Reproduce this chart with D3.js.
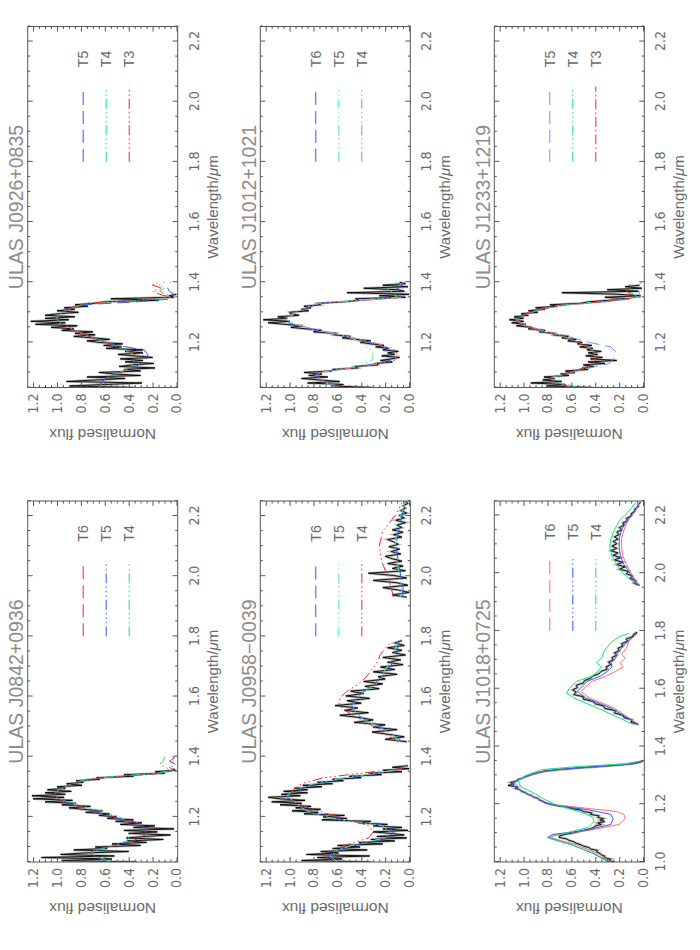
<!DOCTYPE html>
<html>
<head>
<meta charset="utf-8">
<script src="https://cdn.jsdelivr.net/npm/d3@7"></script>
<style>
  body { margin: 0; background: #fff; }
  text { font-family: "Liberation Sans", Arial, sans-serif; }
  .tick text { font-family: "Liberation Sans Narrow", "DejaVu Sans Condensed", "Liberation Sans", sans-serif; }
</style>
</head>
<body>
<svg id="fig" width="700" height="950"></svg>
<script>
// ---- data (wavelength in micron, normalised flux) ----

// tick labels
const wlTickLabels = [1.0, 1.2, 1.4, 1.6, 1.8, 2.0, 2.2];
const fluxTickLabels = [0.0, 0.2, 0.4, 0.6, 0.8, 1.0, 1.2];

// panel titles and legend labels
const panelTitles = ['ULAS J0926+0835', 'ULAS J1012+1021', 'ULAS J1233+1219',
  'ULAS J0842+0936', 'ULAS J0958\u22120039', 'ULAS J1018+0725'];
const j0926Legend = ['T5', 'T4', 'T3'];
const j1012Legend = ['T6', 'T5', 'T4'];
const j1233Legend = ['T5', 'T4', 'T3'];
const j0842Legend = ['T6', 'T5', 'T4'];
const j0958Legend = ['T6', 'T5', 'T4'];
const j1018Legend = ['T6', 'T5', 'T4'];

// observed spectra: flux sampled from a start wavelength at a fixed step
const j0926FluxJ = [0.34,0.89,0.60,0.29,0.92,0.67,0.43,0.75,0.30,0.52,0.65,0.30,0.44,0.18,0.48,0.37,0.19,0.43,0.28,0.47,
  0.20,0.35,0.49,0.28,0.43,0.28,0.59,0.46,0.61,0.45,0.65,0.75,0.56,0.70,0.86,0.68,0.85,0.70,0.96,0.86,
  1.05,0.83,1.18,0.93,1.22,0.90,1.10,0.85,1.10,0.99,0.82,1.00,0.85,0.94,0.74,0.85,0.68,0.60,0.15,0.55,
  0.02,0.06,0.00];
const j1012FluxJ = [0.30,0.65,0.55,0.85,0.58,0.75,0.90,0.68,0.84,0.73,0.88,0.65,0.64,0.43,0.45,0.26,0.27,0.14,0.24,0.15,
  0.08,0.23,0.12,0.18,0.09,0.22,0.17,0.28,0.21,0.32,0.41,0.32,0.45,0.56,0.49,0.63,0.61,0.80,0.73,0.86,
  0.99,0.89,1.04,1.18,1.00,1.22,1.02,1.10,0.92,0.99,1.00,0.84,0.90,0.82,0.88,0.74,0.76,0.54,0.42,0.45,
  0.03,0.25,0.00,0.52,0.04,0.10,0.38,0.01,0.22,0.03,0.08];
const j1233FluxJ = [0.42,0.81,0.65,0.94,0.68,0.84,0.74,0.83,0.62,0.69,0.57,0.65,0.46,0.51,0.41,0.50,0.32,0.46,0.22,0.44,
  0.34,0.48,0.38,0.46,0.35,0.47,0.42,0.53,0.43,0.55,0.51,0.63,0.56,0.68,0.62,0.75,0.74,0.87,0.82,0.96,
  0.93,1.06,0.98,1.10,1.00,1.12,1.00,1.08,0.96,1.02,0.88,0.96,0.82,0.90,0.72,0.78,0.52,0.45,0.28,0.12,
  0.32,0.02,0.22,0.68,0.04,0.30,0.01,0.15,0.03];
const j0842FluxJ = [0.33,0.96,0.54,1.13,0.52,0.97,0.77,0.40,0.86,0.58,0.68,0.30,0.54,0.25,0.41,0.11,0.42,0.26,0.05,0.40,
  0.16,0.44,0.02,0.36,0.18,0.47,0.29,0.51,0.36,0.58,0.50,0.65,0.56,0.76,0.62,0.78,0.90,0.72,0.96,0.84,
  1.10,0.87,1.20,0.94,1.21,0.93,1.10,0.88,1.08,0.93,1.00,0.79,0.92,0.78,0.84,0.64,0.67,0.36,0.44,0.10,
  0.18,0.01,0.03];
const j0958FluxJ = [0.32,0.90,0.56,0.77,0.33,0.86,0.59,0.74,0.35,0.64,0.41,0.60,0.22,0.42,0.12,0.32,0.02,0.27,0.04,0.15,
  0.30,0.01,0.22,0.06,0.30,0.18,0.42,0.32,0.73,0.52,0.72,0.54,0.88,0.76,0.98,0.74,0.95,0.82,1.08,0.90,
  1.15,0.87,1.08,1.18,0.91,1.07,0.85,1.05,0.85,0.96,0.73,0.89,0.64,0.77,0.55,0.64,0.40,0.50,0.23,0.34,
  0.06,0.22,0.00,0.14,0.01];
const j0958FluxH = [0.02,0.20,0.04,0.17,0.31,0.10,0.30,0.20,0.46,0.30,0.41,0.58,0.34,0.54,0.43,0.62,0.40,0.52,0.33,0.53,
  0.38,0.49,0.25,0.37,0.22,0.38,0.20,0.26,0.10,0.30,0.12,0.24,0.05,0.18,0.07,0.22,0.03,0.14,0.06,0.18,
  0.04,0.12,0.06];
const j0958FluxK = [0.02,0.14,0.00,0.09,0.22,0.01,0.10,0.30,0.02,0.12,0.34,0.03,0.14,0.05,0.18,0.06,0.14,0.20,0.07,0.15,
  0.08,0.17,0.09,0.13,0.18,0.06,0.13,0.05,0.14,0.06,0.10,0.03,0.11,0.04,0.08,0.02,0.07,0.03,0.05,0.01,
  0.03];
const j1018FluxJ = [0.24,0.29,0.27,0.33,0.32,0.35,0.36,0.39,0.38,0.44,0.45,0.50,0.52,0.56,0.58,0.62,0.64,0.70,0.70,0.66,
  0.60,0.54,0.49,0.44,0.41,0.40,0.35,0.38,0.32,0.36,0.33,0.38,0.37,0.44,0.43,0.50,0.52,0.60,0.64,0.72,
  0.77,0.82,0.84,0.87,0.88,0.92,0.93,0.97,0.98,1.02,1.03,1.07,1.05,1.13,1.08,1.11,1.06,1.05,1.01,0.99,
  0.95,0.92,0.87,0.82,0.70,0.56,0.38,0.22,0.09,0.03,0.00];
const j1018FluxH = [0.04,0.10,0.09,0.16,0.17,0.24,0.23,0.32,0.33,0.40,0.42,0.50,0.50,0.58,0.56,0.59,0.55,0.56,0.50,0.49,
  0.44,0.42,0.37,0.35,0.30,0.31,0.27,0.29,0.25,0.26,0.22,0.24,0.20,0.21,0.17,0.18,0.13,0.14,0.09,0.08,
  0.05];
const j1018FluxK = [0.03,0.08,0.06,0.11,0.09,0.14,0.12,0.20,0.15,0.22,0.17,0.24,0.19,0.25,0.21,0.27,0.22,0.26,0.22,0.25,
  0.21,0.24,0.20,0.22,0.18,0.20,0.16,0.17,0.13,0.14,0.10,0.10,0.07,0.07,0.04,0.04,0.02];

// template spectra, one array of [wavelength, flux] per band
const j0926T5 = [[[1.05,0.64],[1.07,0.63],[1.09,0.56],[1.10,0.48],[1.12,0.34],[1.14,0.26],[1.16,0.24],[1.175,0.27],[1.19,0.5],[1.21,0.66],[1.23,0.8],[1.25,0.9],[1.27,0.99],[1.29,1.0],[1.31,0.92],[1.325,0.78],[1.335,0.33],[1.345,0.03],[1.36,0.02],[1.37,0.06],[1.385,0.08],[1.40,0.05]]];
const j0926T4 = [[[1.05,0.64],[1.07,0.62],[1.09,0.55],[1.10,0.47],[1.12,0.38],[1.14,0.35],[1.16,0.36],[1.18,0.46],[1.20,0.6],[1.22,0.72],[1.24,0.85],[1.26,0.95],[1.28,1.01],[1.30,0.95],[1.32,0.84],[1.33,0.74],[1.34,0.3],[1.35,0.05],[1.36,0.1],[1.37,0.14],[1.38,0.1],[1.39,0.15],[1.40,0.1]]];
const j0926T3 = [[[1.05,0.65],[1.07,0.62],[1.09,0.54],[1.10,0.46],[1.12,0.37],[1.14,0.33],[1.16,0.35],[1.18,0.45],[1.20,0.6],[1.22,0.73],[1.24,0.86],[1.26,0.96],[1.28,1.02],[1.30,0.96],[1.32,0.85],[1.33,0.75],[1.34,0.32],[1.35,0.06],[1.36,0.14],[1.37,0.2],[1.38,0.12],[1.39,0.2],[1.40,0.16]]];

const j1012T6 = [[[1.05,0.6],[1.07,0.72],[1.09,0.79],[1.10,0.76],[1.12,0.4],[1.14,0.16],[1.16,0.13],[1.18,0.17],[1.20,0.33],[1.22,0.55],[1.24,0.78],[1.26,0.98],[1.275,1.05],[1.29,1.0],[1.31,0.88],[1.33,0.74],[1.34,0.38],[1.35,0.06],[1.36,0.03],[1.37,0.05],[1.38,0.1],[1.39,0.06],[1.40,0.04]]];
const j1012T5 = [[[1.05,0.62],[1.07,0.72],[1.09,0.78],[1.10,0.74],[1.12,0.45],[1.14,0.31],[1.16,0.3],[1.18,0.33],[1.20,0.4],[1.22,0.52],[1.24,0.75],[1.26,0.95],[1.275,1.02],[1.29,0.98],[1.31,0.9],[1.33,0.78],[1.34,0.45],[1.35,0.1],[1.36,0.12],[1.38,0.18],[1.40,0.1]]];
const j1012T4 = [[[1.05,0.58],[1.07,0.7],[1.09,0.78],[1.10,0.74],[1.12,0.38],[1.14,0.12],[1.16,0.1],[1.18,0.13],[1.20,0.3],[1.22,0.52],[1.24,0.74],[1.26,0.96],[1.275,1.04],[1.29,1.0],[1.31,0.9],[1.33,0.76],[1.34,0.35],[1.35,0.05],[1.37,0.03],[1.39,0.08],[1.40,0.05]]];

const j1233T5 = [[[1.05,0.6],[1.07,0.74],[1.085,0.76],[1.10,0.6],[1.12,0.4],[1.13,0.28],[1.15,0.24],[1.17,0.23],[1.185,0.27],[1.20,0.45],[1.22,0.63],[1.24,0.85],[1.26,1.0],[1.275,1.06],[1.29,1.0],[1.31,0.86],[1.325,0.62],[1.335,0.3],[1.35,0.02],[1.36,0.03],[1.38,0.04],[1.40,0.02]]];
const j1233T4 = [[[1.05,0.55],[1.07,0.72],[1.085,0.75],[1.10,0.62],[1.12,0.46],[1.14,0.4],[1.16,0.4],[1.18,0.44],[1.20,0.54],[1.22,0.67],[1.24,0.88],[1.26,1.02],[1.275,1.06],[1.29,1.0],[1.31,0.86],[1.325,0.66],[1.335,0.35],[1.35,0.04],[1.36,0.08],[1.37,0.12],[1.385,0.1],[1.40,0.08]]];
const j1233T3 = [[[1.05,0.6],[1.07,0.76],[1.085,0.77],[1.10,0.62],[1.12,0.46],[1.14,0.4],[1.16,0.41],[1.18,0.45],[1.20,0.55],[1.22,0.68],[1.24,0.88],[1.26,1.02],[1.275,1.07],[1.29,1.01],[1.31,0.87],[1.325,0.66],[1.335,0.34],[1.35,0.05],[1.36,0.1],[1.37,0.14],[1.385,0.12],[1.40,0.1]]];

const j0842T6 = [[[1.05,0.56],[1.07,0.68],[1.08,0.72],[1.09,0.68],[1.10,0.57],[1.12,0.36],[1.14,0.26],[1.16,0.25],[1.18,0.32],[1.20,0.53],[1.22,0.7],[1.24,0.86],[1.26,0.98],[1.275,1.03],[1.29,0.98],[1.31,0.86],[1.325,0.72],[1.335,0.45],[1.345,0.12],[1.355,0.02],[1.365,0.06],[1.375,0.01],[1.385,0.06],[1.395,0.02],[1.40,0.04]]];
const j0842T5 = [[[1.05,0.58],[1.07,0.69],[1.08,0.72],[1.09,0.69],[1.10,0.58],[1.12,0.37],[1.14,0.27],[1.16,0.26],[1.18,0.33],[1.20,0.54],[1.22,0.71],[1.24,0.87],[1.26,0.99],[1.275,1.03],[1.29,0.99],[1.31,0.87],[1.325,0.74],[1.335,0.48],[1.345,0.14],[1.355,0.03],[1.37,0.04],[1.385,0.03],[1.40,0.02]]];
const j0842T4 = [[[1.05,0.55],[1.07,0.68],[1.08,0.71],[1.09,0.66],[1.10,0.56],[1.12,0.42],[1.14,0.38],[1.16,0.38],[1.18,0.4],[1.20,0.48],[1.22,0.64],[1.24,0.82],[1.26,0.97],[1.275,1.02],[1.29,0.99],[1.31,0.88],[1.325,0.76],[1.335,0.5],[1.345,0.16],[1.355,0.05],[1.365,0.09],[1.375,0.14],[1.385,0.11],[1.40,0.1]]];

const j0958T6 = [
  [[1.05,0.62],[1.07,0.68],[1.09,0.6],[1.11,0.42],[1.13,0.18],[1.15,0.13],[1.17,0.18],[1.19,0.55],[1.21,0.78],[1.23,0.9],[1.25,0.97],[1.27,1.03],[1.29,0.95],[1.31,0.78],[1.33,0.52],[1.35,0.18],[1.36,0.06],[1.37,0.03]],
  [[1.45,0.06],[1.47,0.12],[1.49,0.2],[1.51,0.3],[1.53,0.4],[1.55,0.45],[1.57,0.48],[1.59,0.46],[1.61,0.4],[1.63,0.33],[1.65,0.27],[1.67,0.22],[1.69,0.18],[1.71,0.14],[1.73,0.12],[1.75,0.1],[1.78,0.09]],
  [[1.93,0.06],[1.96,0.05],[2.0,0.07],[2.05,0.09],[2.1,0.11],[2.15,0.09],[2.2,0.06],[2.25,0.03]]];
const j0958T5 = [
  [[1.05,0.6],[1.07,0.66],[1.09,0.6],[1.11,0.44],[1.13,0.2],[1.15,0.16],[1.17,0.22],[1.19,0.58],[1.21,0.8],[1.23,0.9],[1.25,0.96],[1.27,1.02],[1.29,0.96],[1.31,0.8],[1.33,0.55],[1.35,0.2],[1.36,0.07],[1.37,0.03]],
  [[1.45,0.08],[1.47,0.13],[1.49,0.21],[1.51,0.31],[1.53,0.4],[1.55,0.45],[1.57,0.47],[1.59,0.45],[1.61,0.39],[1.63,0.32],[1.65,0.25],[1.67,0.22],[1.69,0.2],[1.72,0.15],[1.75,0.12],[1.78,0.1]],
  [[1.93,0.07],[1.96,0.06],[2.0,0.08],[2.05,0.1],[2.1,0.12],[2.15,0.1],[2.2,0.07],[2.25,0.03]]];
const j0958T4 = [
  [[1.05,0.66],[1.07,0.7],[1.09,0.66],[1.11,0.5],[1.13,0.34],[1.15,0.3],[1.17,0.34],[1.19,0.5],[1.21,0.68],[1.23,0.84],[1.25,0.96],[1.27,1.0],[1.29,0.97],[1.31,0.9],[1.33,0.72],[1.35,0.3],[1.36,0.08],[1.37,0.03]],
  [[1.45,0.09],[1.47,0.18],[1.49,0.25],[1.51,0.34],[1.54,0.48],[1.56,0.56],[1.58,0.59],[1.60,0.57],[1.62,0.51],[1.64,0.43],[1.66,0.37],[1.68,0.33],[1.70,0.29],[1.72,0.26],[1.74,0.24],[1.76,0.2],[1.78,0.15]],
  [[1.93,0.13],[1.96,0.15],[2.0,0.18],[2.05,0.23],[2.1,0.25],[2.15,0.22],[2.2,0.12],[2.25,0.05]]];

const j1018T6 = [
  [[1.0,0.27],[1.03,0.38],[1.06,0.56],[1.085,0.78],[1.095,0.74],[1.11,0.45],[1.13,0.2],[1.15,0.15],[1.165,0.16],[1.175,0.22],[1.185,0.45],[1.20,0.78],[1.22,0.89],[1.24,0.99],[1.26,1.07],[1.27,1.1],[1.29,1.02],[1.31,0.87],[1.32,0.72],[1.33,0.38],[1.34,0.1],[1.35,0.01]],
  [[1.476,0.04],[1.499,0.12],[1.533,0.24],[1.568,0.45],[1.591,0.52],[1.625,0.43],[1.645,0.3],[1.66,0.23],[1.675,0.17],[1.69,0.19],[1.705,0.15],[1.72,0.18],[1.74,0.14],[1.763,0.12],[1.792,0.05]],
  [[1.958,0.03],[1.98,0.07],[2.0,0.1],[2.03,0.14],[2.06,0.17],[2.09,0.18],[2.12,0.18],[2.15,0.16],[2.18,0.13],[2.21,0.07],[2.245,0.03]]];
const j1018T5 = [
  [[1.0,0.29],[1.03,0.42],[1.06,0.6],[1.085,0.8],[1.095,0.76],[1.11,0.48],[1.13,0.27],[1.15,0.25],[1.165,0.27],[1.18,0.45],[1.20,0.79],[1.22,0.88],[1.24,0.99],[1.26,1.07],[1.27,1.1],[1.29,1.02],[1.31,0.88],[1.32,0.72],[1.33,0.4],[1.34,0.1],[1.35,0.01]],
  [[1.476,0.04],[1.499,0.13],[1.533,0.27],[1.568,0.48],[1.591,0.55],[1.625,0.47],[1.645,0.35],[1.66,0.3],[1.675,0.26],[1.69,0.27],[1.705,0.23],[1.72,0.22],[1.74,0.18],[1.763,0.13],[1.792,0.05]],
  [[1.958,0.04],[1.98,0.08],[2.0,0.11],[2.03,0.16],[2.06,0.19],[2.09,0.2],[2.12,0.2],[2.15,0.18],[2.18,0.14],[2.21,0.08],[2.245,0.03]]];
const j1018T4 = [
  [[1.0,0.28],[1.03,0.41],[1.06,0.6],[1.08,0.77],[1.09,0.75],[1.105,0.6],[1.12,0.46],[1.14,0.41],[1.155,0.42],[1.17,0.5],[1.19,0.66],[1.20,0.74],[1.22,0.84],[1.24,0.92],[1.26,1.02],[1.28,1.05],[1.30,0.98],[1.32,0.85],[1.33,0.56],[1.34,0.15],[1.35,0.02]],
  [[1.476,0.08],[1.499,0.2],[1.533,0.38],[1.568,0.58],[1.585,0.64],[1.60,0.62],[1.625,0.56],[1.645,0.42],[1.66,0.38],[1.675,0.35],[1.69,0.39],[1.71,0.34],[1.728,0.33],[1.745,0.3],[1.763,0.26],[1.78,0.2],[1.792,0.12]],
  [[1.958,0.06],[1.98,0.11],[2.0,0.17],[2.03,0.22],[2.06,0.26],[2.09,0.28],[2.12,0.27],[2.15,0.24],[2.18,0.2],[2.21,0.13],[2.245,0.06]]];

// ---- styles ----
const BLUE = '#2a5cff', LBLUE = '#6b95ff', GREEN = '#14e27c', MINT = '#4cf0a8', RED = '#ff2424', PINK = '#ff6c6c';
const DASH = '13,6';
const DASH3DOT = '10,3,1.5,3,1.5,3,1.5,3';
const DASHDOT = '10,3,1.5,3';

// observed spectrum bands: [start, step, flux]
const panels = [
  { title: panelTitles[0], col: 1, row: 0, wl: [1.05, 2.25], legend: j0926Legend,
    bands: [[1.05, 0.005, j0926FluxJ]],
    tmpl: [[j0926T5, BLUE, DASH], [j0926T4, GREEN, DASH3DOT], [j0926T3, RED, DASH3DOT]] },
  { title: panelTitles[1], col: 1, row: 1, wl: [1.05, 2.25], legend: j1012Legend,
    bands: [[1.05, 0.005, j1012FluxJ]],
    tmpl: [[j1012T6, BLUE, DASH], [j1012T5, MINT, DASH3DOT], [j1012T4, PINK, DASH3DOT]] },
  { title: panelTitles[2], col: 1, row: 2, wl: [1.05, 2.25], legend: j1233Legend,
    bands: [[1.05, 0.005, j1233FluxJ]],
    tmpl: [[j1233T5, LBLUE, DASH], [j1233T4, GREEN, DASH3DOT], [j1233T3, RED, DASHDOT]] },
  { title: panelTitles[3], col: 0, row: 0, wl: [1.05, 2.25], legend: j0842Legend,
    bands: [[1.05, 0.005, j0842FluxJ]],
    tmpl: [[j0842T6, RED, DASH], [j0842T5, BLUE, DASH3DOT], [j0842T4, GREEN, DASH3DOT]] },
  { title: panelTitles[4], col: 0, row: 1, wl: [1.05, 2.25], legend: j0958Legend,
    bands: [[1.05, 0.005, j0958FluxJ], [1.45, 0.008, j0958FluxH], [1.93, 0.008, j0958FluxK]],
    tmpl: [[j0958T6, BLUE, DASH], [j0958T5, MINT, DASH3DOT], [j0958T4, RED, DASH3DOT]] },
  { title: panelTitles[5], col: 0, row: 2, wl: [1.0, 2.25], legend: j1018Legend, solid: true,
    bands: [[1.0, 0.005, j1018FluxJ], [1.476, 0.008, j1018FluxH], [1.958, 0.008, j1018FluxK]],
    tmpl: [[j1018T6, PINK, DASH], [j1018T5, BLUE, DASH3DOT], [j1018T4, GREEN, DASH3DOT]] }
];

// ---- layout (figure drawn in landscape, then turned a quarter turn) ----
const colX = [88, 562.5];
const rowY = [27.7, 260.3, 494.3];
const boxW = 361, boxH = 150;
const INK = '#555', LABEL = '#6a6a6a';

const svg = d3.select('#fig');
const fig = svg.append('g').attr('transform', 'translate(0,950) rotate(-90)');

panels.forEach((p, pi) => {
  const x0 = colX[p.col], y0 = rowY[p.row];
  const x = d3.scaleLinear().domain(p.wl).range([x0, x0 + boxW]);
  const y = d3.scaleLinear().domain([-0.01, 1.245]).range([y0 + boxH, y0]);
  const g = fig.append('g');

  const clipId = 'clip' + pi;
  g.append('clipPath').attr('id', clipId).append('rect')
    .attr('x', x0).attr('y', y0).attr('width', boxW).attr('height', boxH);
  const plot = g.append('g').attr('clip-path', `url(#${clipId})`);

  const line = d3.line().x(d => x(d[0])).y(d => y(d[1]));

  // observed spectrum: grey halo then black trace
  p.bands.forEach(([start, step, flux]) => {
    const pts = flux.map((f, i) => [start + i * step, f]);
    plot.append('path').attr('d', line(pts))
      .attr('fill', 'none').attr('stroke', '#b8b8b8').attr('stroke-width', 2.6);
    plot.append('path').attr('d', line(pts))
      .attr('fill', 'none').attr('stroke', '#000').attr('stroke-width', 0.9);
  });

  // templates drawn over the data
  p.tmpl.forEach(([bands, color, dash]) => {
    bands.forEach(b => {
      plot.append('path').attr('d', line(b))
        .attr('fill', 'none').attr('stroke', color).attr('stroke-width', 1)
        .attr('stroke-dasharray', p.solid ? null : dash);
    });
  });

  // axes, ticks pointing inwards on all four sides
  const wlTicks = wlTickLabels.filter(v => v >= p.wl[0] - 1e-9 && v <= p.wl[1]);
  const wlMinor = d3.range(Math.ceil(p.wl[0] / 0.05) * 0.05, p.wl[1] + 1e-9, 0.05)
    .filter(v => !wlTicks.some(t => Math.abs(t - v) < 1e-6));
  const fMinor = d3.range(0.05, 1.2, 0.05).filter(v => !fluxTickLabels.some(t => Math.abs(t - v) < 1e-6));

  const styleAxis = sel => {
    sel.select('.domain').remove();
    sel.selectAll('.tick line').attr('stroke', INK);
    sel.selectAll('.tick text').attr('fill', LABEL).attr('font-size', 14);
  };

  g.append('g').attr('transform', `translate(0,${y0 + boxH})`)
    .call(d3.axisBottom(x).tickValues(wlTicks).tickSize(-5).tickPadding(11).tickFormat(d3.format('.1f'))).call(styleAxis);
  g.append('g').attr('transform', `translate(0,${y0 + boxH})`)
    .call(d3.axisBottom(x).tickValues(wlMinor).tickSize(-2.5).tickFormat('')).call(styleAxis);
  g.append('g').attr('transform', `translate(0,${y0})`)
    .call(d3.axisTop(x).tickValues(wlTicks).tickSize(-5).tickFormat('')).call(styleAxis);
  g.append('g').attr('transform', `translate(0,${y0})`)
    .call(d3.axisTop(x).tickValues(wlMinor).tickSize(-2.5).tickFormat('')).call(styleAxis);
  g.append('g').attr('transform', `translate(${x0},0)`)
    .call(d3.axisLeft(y).tickValues(fluxTickLabels).tickSize(-5).tickPadding(6).tickFormat(d3.format('.1f'))).call(styleAxis);
  g.append('g').attr('transform', `translate(${x0},0)`)
    .call(d3.axisLeft(y).tickValues(fMinor).tickSize(-2.5).tickFormat('')).call(styleAxis);
  g.append('g').attr('transform', `translate(${x0 + boxW},0)`)
    .call(d3.axisRight(y).tickValues(fluxTickLabels).tickSize(-5).tickFormat('')).call(styleAxis);
  g.append('g').attr('transform', `translate(${x0 + boxW},0)`)
    .call(d3.axisRight(y).tickValues(fMinor).tickSize(-2.5).tickFormat('')).call(styleAxis);

  g.append('rect').attr('x', x0).attr('y', y0).attr('width', boxW).attr('height', boxH)
    .attr('fill', 'none').attr('stroke', INK).attr('stroke-width', 1);

  // axis titles
  const xl = g.append('text').attr('x', x0 + boxW / 2).attr('y', y0 + boxH + 40)
    .attr('text-anchor', 'middle').attr('font-size', 15).attr('fill', LABEL).text('Wavelength/');
  xl.append('tspan').attr('font-style', 'italic').text('\u03bc');
  xl.append('tspan').text('m');
  g.append('text').attr('transform', `translate(${x0 - 41},${y0 + boxH / 2}) rotate(-90)`)
    .attr('text-anchor', 'middle').attr('font-size', 15.5).attr('fill', LABEL).text('Normalised flux');

  // panel title
  g.append('text').attr('x', x0 + boxW / 2).attr('y', y0 - 4.5)
    .attr('text-anchor', 'middle').attr('font-size', 19.5).attr('fill', '#8c8c8c').text(p.title);

  // legend
  p.legend.forEach((lab, i) => {
    const [, color, dash] = p.tmpl[i];
    const ly = y0 + 55.5 + i * 23;
    g.append('line').attr('x1', x(1.8)).attr('x2', x(2.05)).attr('y1', ly).attr('y2', ly)
      .attr('stroke', color).attr('stroke-width', 1).attr('stroke-dasharray', dash);
    g.append('text').attr('x', x(2.115)).attr('y', ly).attr('dy', '0.35em')
      .attr('font-size', 14).attr('fill', LABEL).text(lab);
  });
});
</script>
</body>
</html>
